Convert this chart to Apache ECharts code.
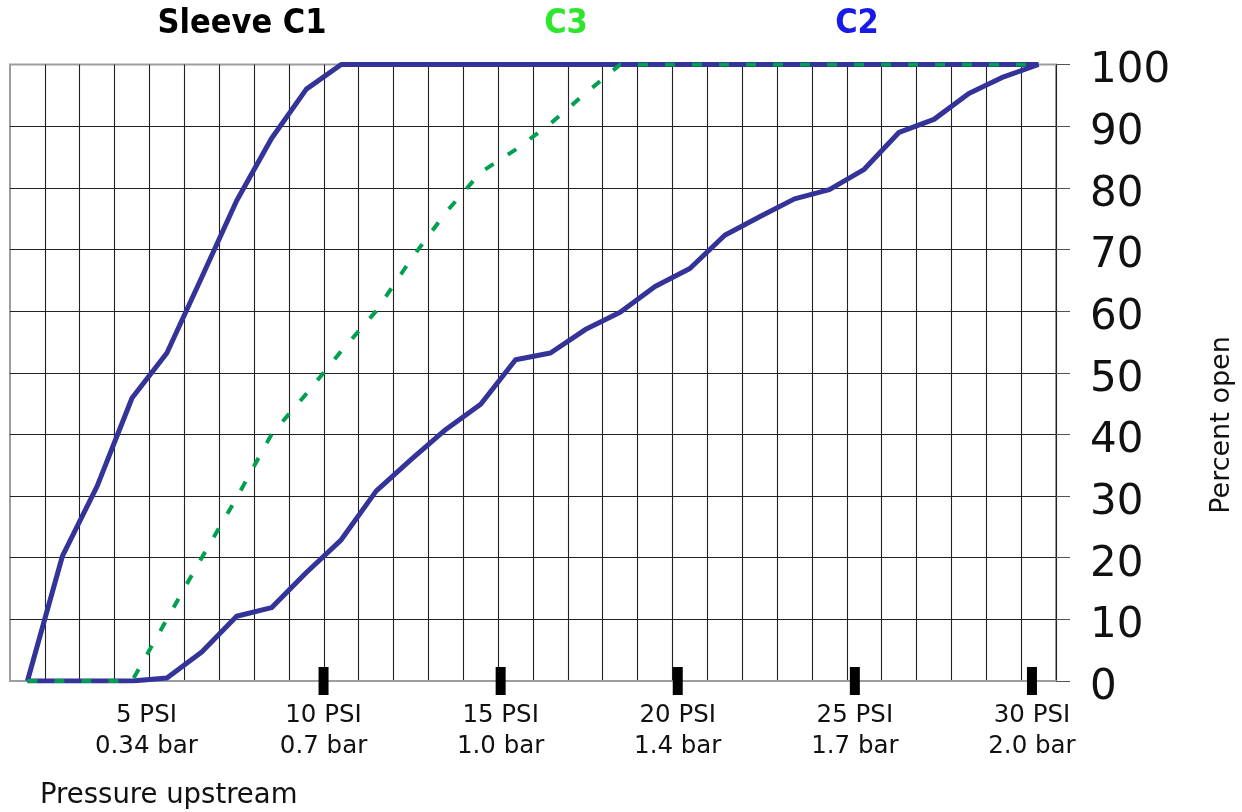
<!DOCTYPE html>
<html>
<head>
<meta charset="utf-8">
<script src="https://cdn.jsdelivr.net/npm/echarts@6/dist/echarts.min.js"></script>
<style>
html,body{margin:0;padding:0;background:#fff;}
#chart{width:1242px;height:812px;}
</style>
</head>
<body>
<div id="chart"></div>
<script>
// Step categories (one per grid column)
const categories = ['1','2','3','4','5','6','7','8','9','10','11','12','13','14','15','16','17','18','19','20','21','22','23','24','25','26','27','28','29','30'];
// Percent open per step
const sleeveC1 = [0, 20.2, 31.6, 45.9, 53.2, 65.5, 77.9, 88, 96, 100, 100, 100, 100, 100, 100, 100, 100, 100, 100, 100, 100, 100, 100, 100, 100, 100, 100, 100, 100, 100];
const sleeveC2 = [0, 0, 0, 0, 0.5, 4.7, 10.5, 11.9, 17.6, 22.9, 30.8, 35.9, 40.8, 44.9, 52.1, 53.2, 57, 59.8, 64, 66.9, 72.3, 75.3, 78.2, 79.7, 83, 89, 91.1, 95.3, 98, 100];
const sleeveC3 = [0, 0, 0, 0, 10, 20, 29.7, 40, 46.6, 53.5, 60, 68.4, 76, 82.5, 86.2, 90.4, 95.3, 100, 100, 100, 100, 100, 100, 100, 100, 100, 100, 100, 100, 100];
// Pressure axis
const psiLabels = [5, 10, 15, 20, 25, 30];
const barLabels = ['0.34', '0.7', '1.0', '1.4', '1.7', '2.0'];
const psiTickMarks = [10, 15, 20, 25, 30];
const psiMin = 1.148, psiMax = 30.679;
const yTicks = [0, 10, 20, 30, 40, 50, 60, 70, 80, 90, 100];

const FONT = "'DejaVu Sans', sans-serif";
const chart = echarts.init(document.getElementById('chart'), null, {renderer: 'canvas'});

const option = {
  animation: false,
  backgroundColor: '#fff',
  grid: {
    left: 10, right: 186, top: 64.5, bottom: 131,
    show: true, borderColor: '#9a9ea2', borderWidth: 2, backgroundColor: 'transparent'
  },
  xAxis: [
    {
      type: 'category', data: categories, boundaryGap: true, position: 'bottom',
      axisLine: {show: true, lineStyle: {color: '#9a9ea2', width: 2}},
      axisTick: {show: false},
      axisLabel: {show: false},
      splitLine: {show: true, showMinLine: false, showMaxLine: true, lineStyle: {color: '#222', width: 1.1}}
    },
    {
      type: 'value', min: psiMin, max: psiMax, position: 'bottom',
      axisLine: {show: false}, axisTick: {show: false}, splitLine: {show: false},
      axisLabel: {
        show: true, customValues: psiLabels, margin: 19,
        fontFamily: FONT, fontSize: 24.5, color: '#111', lineHeight: 31, align: 'center',
        formatter: function (v) {
          const i = psiLabels.indexOf(Math.round(v));
          return Math.round(v) + ' PSI\n' + (i >= 0 ? barLabels[i] : '') + ' bar';
        }
      }
    }
  ],
  yAxis: {
    type: 'value', min: 0, max: 100, interval: 10, position: 'right',
    axisLine: {show: false},
    axisTick: {show: true, length: 14, lineStyle: {color: '#555', width: 1}},
    axisLabel: {
      show: true, margin: 34, align: 'left', color: '#111',
      customValues: yTicks,
      formatter: function (v) { return '{a|' + v + '}'; },
      rich: {a: {fontFamily: FONT, fontSize: 42, color: '#111', padding: [14, 0, 0, 0]}}
    },
    splitLine: {show: true, showMinLine: false, showMaxLine: false, lineStyle: {color: '#222', width: 1.1}}
  },
  series: [
    {
      name: 'Sleeve C1', type: 'line', data: sleeveC1, xAxisIndex: 0, yAxisIndex: 0,
      symbol: 'none', lineStyle: {color: '#333399', width: 5, join: 'round'}, z: 3
    },
    {
      name: 'C2', type: 'line', data: sleeveC2, xAxisIndex: 0, yAxisIndex: 0,
      symbol: 'none', lineStyle: {color: '#333399', width: 5, join: 'round'}, z: 3
    },
    {
      name: 'C3', type: 'line', data: sleeveC3, xAxisIndex: 0, yAxisIndex: 0,
      symbol: 'none', lineStyle: {color: '#00a050', width: 4, type: [10, 17]}, z: 4
    },
    {
      name: 'PSI ticks', type: 'scatter', xAxisIndex: 1, yAxisIndex: 0,
      data: psiTickMarks.map(p => [p, 0]),
      symbol: 'rect', symbolSize: [10, 28], clip: false,
      itemStyle: {color: '#000', opacity: 1}, z: 5, silent: true
    }
  ],
  graphic: [
    {type: 'text', x: 242, y: 24, style: {text: 'Sleeve C1', font: "bold 34px 'DejaVu Sans Condensed', 'DejaVu Sans', sans-serif", fill: '#000', align: 'center', verticalAlign: 'middle'}},
    {type: 'text', x: 566, y: 24, style: {text: 'C3', font: "bold 34px 'DejaVu Sans Condensed', 'DejaVu Sans', sans-serif", fill: '#2ee62e', align: 'center', verticalAlign: 'middle'}},
    {type: 'text', x: 857, y: 24, style: {text: 'C2', font: "bold 34px 'DejaVu Sans Condensed', 'DejaVu Sans', sans-serif", fill: '#1a1ae6', align: 'center', verticalAlign: 'middle'}},
    {type: 'text', x: 1222, y: 425, rotation: Math.PI / 2, style: {text: 'Percent open', font: "27px 'DejaVu Sans', sans-serif", fill: '#111', align: 'center', verticalAlign: 'middle'}},
    {type: 'text', x: 40, y: 796, style: {text: 'Pressure upstream', font: "27.5px 'DejaVu Sans', sans-serif", fill: '#111', align: 'left', verticalAlign: 'middle'}}
  ]
};
chart.setOption(option);
</script>
</body>
</html>
